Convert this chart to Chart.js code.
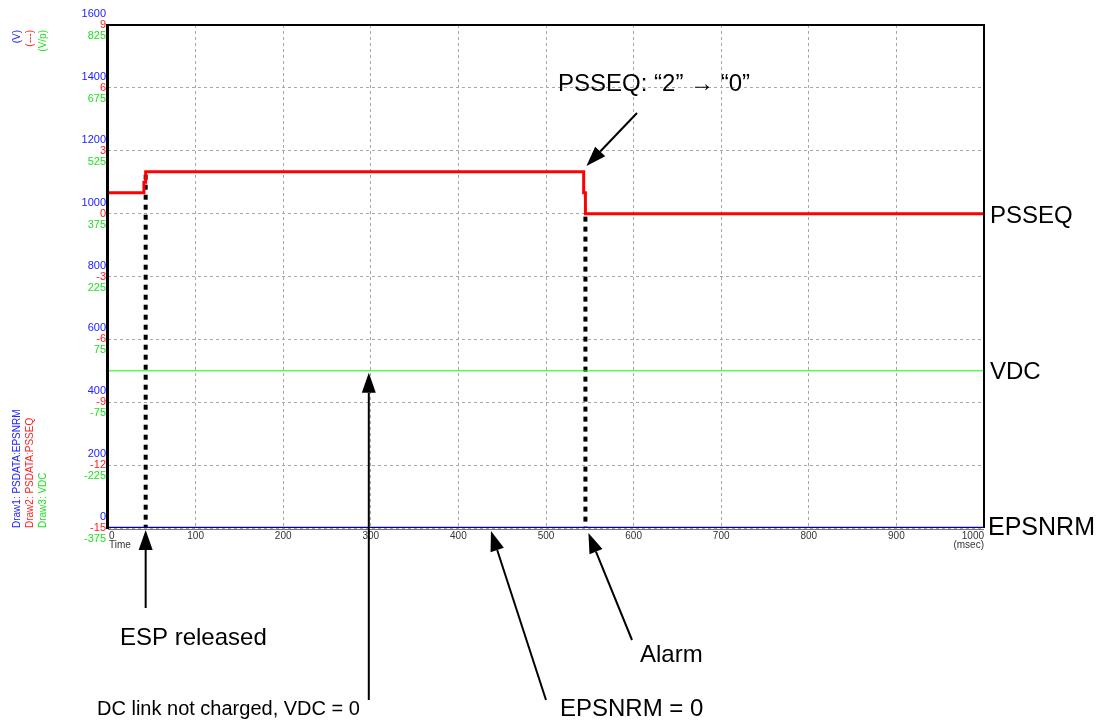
<!DOCTYPE html>
<html>
<head>
<meta charset="utf-8">
<script src="https://cdn.jsdelivr.net/npm/chart.js"></script>
<style>
  html, body { margin: 0; padding: 0; background: #fff; }
  #wrap { width: 1108px; height: 725px; position: relative; }
</style>
</head>
<body>
<div id="wrap"><canvas id="chart" width="1108" height="725"></canvas></div>
<script>
// 시간축 (msec)
const timeTicks = [0, 100, 200, 300, 400, 500, 600, 700, 800, 900, 1000];

// 세 개의 세로축 눈금 (같은 격자선을 공유)
const blueTicks = [0, 200, 400, 600, 800, 1000, 1200, 1400, 1600];
const redTicks = [-15, -12, -9, -6, -3, 0, 3, 6, 9];
const greenTicks = [-375, -225, -75, 75, 225, 375, 525, 675, 825];

// Draw2: PSDATA:PSSEQ (계단형)
const psseqTime = [0, 41, 43, 543, 545, 1000];
const psseqValue = [1, 1.5, 2, 1, 0, 0];

// Draw3: VDC
const vdcTime = [0, 1000];
const vdcValue = [0, 0];

// Draw1: PSDATA:EPSNRM
const epsnrmTime = [0, 1000];
const epsnrmValue = [0, 0];

// 점선 표시 시점 (msec, PSSEQ 값)
const markerTime = [43, 545];
const markerValue = [2, 0];

const toPoints = (xs, ys) => xs.map((x, i) => ({ x: x, y: ys[i] }));

const FONT = '"Liberation Sans", Arial, sans-serif';

// 화살표 그리기
function arrow(ctx, x1, y1, x2, y2) {
  const ang = Math.atan2(y2 - y1, x2 - x1);
  const len = 20, half = 7;
  const bx = x2 - Math.cos(ang) * len, by = y2 - Math.sin(ang) * len;
  ctx.strokeStyle = '#000';
  ctx.lineWidth = 2;
  ctx.beginPath();
  ctx.moveTo(x1, y1);
  ctx.lineTo(bx, by);
  ctx.stroke();
  ctx.fillStyle = '#000';
  ctx.beginPath();
  ctx.moveTo(x2, y2);
  ctx.lineTo(bx + Math.sin(ang) * half, by - Math.cos(ang) * half);
  ctx.lineTo(bx - Math.sin(ang) * half, by + Math.cos(ang) * half);
  ctx.closePath();
  ctx.fill();
}

const overlay = {
  id: 'overlay',
  beforeDatasetsDraw(chart) {
    const ctx = chart.ctx;
    const xs = chart.scales.x, yr = chart.scales.yRed;
    // 점선 (검정, 굵게)
    ctx.save();
    ctx.strokeStyle = '#000';
    ctx.lineWidth = 4;
    ctx.setLineDash([5, 5]);
    markerTime.forEach((t, i) => {
      const px = xs.getPixelForValue(t);
      ctx.beginPath();
      ctx.moveTo(px, yr.getPixelForValue(markerValue[i]) + 3);
      ctx.lineTo(px, chart.chartArea.bottom);
      ctx.stroke();
    });
    ctx.restore();
  },
  afterDraw(chart) {
    const ctx = chart.ctx;
    const a = chart.chartArea;
    const xs = chart.scales.x;
    const yb = chart.scales.yBlue, yr = chart.scales.yRed, yg = chart.scales.yGreen;
    ctx.save();

    // 테두리
    ctx.strokeStyle = '#000';
    ctx.lineWidth = 2;
    ctx.beginPath();
    ctx.moveTo(a.left, a.top);
    ctx.lineTo(a.right, a.top);
    ctx.lineTo(a.right, a.bottom);
    ctx.stroke();
    ctx.lineWidth = 3;
    ctx.beginPath();
    ctx.moveTo(a.left - 0.5, a.top - 1);
    ctx.lineTo(a.left - 0.5, a.bottom + 1);
    ctx.stroke();
    ctx.strokeStyle = '#777';
    ctx.lineWidth = 1;
    ctx.beginPath();
    ctx.moveTo(a.left, a.bottom + 1.5);
    ctx.lineTo(a.right, a.bottom + 1.5);
    ctx.stroke();

    // 세로축 라벨 (3색)
    ctx.font = '11px ' + FONT;
    ctx.textAlign = 'right';
    ctx.textBaseline = 'middle';
    const lx = a.left - 2;
    blueTicks.forEach(v => {
      ctx.fillStyle = '#2020ff';
      ctx.fillText(String(v), lx, yb.getPixelForValue(v) - 11);
    });
    redTicks.forEach(v => {
      ctx.fillStyle = '#ff2020';
      ctx.fillText(String(v), lx, yr.getPixelForValue(v));
    });
    greenTicks.forEach(v => {
      ctx.fillStyle = '#20e020';
      ctx.fillText(String(v), lx, yg.getPixelForValue(v) + 11);
    });

    // 시간축 라벨
    ctx.font = '10px ' + FONT;
    ctx.fillStyle = '#333';
    ctx.textBaseline = 'top';
    timeTicks.forEach((t, i) => {
      const px = xs.getPixelForValue(t);
      ctx.textAlign = i === 0 ? 'left' : (i === timeTicks.length - 1 ? 'right' : 'center');
      ctx.fillText(String(t), px + (i === 0 ? 1 : 0), a.bottom + 3);
    });
    ctx.textAlign = 'left';
    ctx.fillText('Time', a.left + 1, a.bottom + 12);
    ctx.textAlign = 'right';
    ctx.fillText('(msec)', a.right, a.bottom + 12);

    // 단위 / 범례 (세로 글씨)
    const vtext = (txt, x, y, color, align) => {
      ctx.save();
      ctx.translate(x, y);
      ctx.rotate(-Math.PI / 2);
      ctx.fillStyle = color;
      ctx.textAlign = align;
      ctx.textBaseline = 'middle';
      ctx.fillText(txt, 0, 0);
      ctx.restore();
    };
    ctx.font = '10px ' + FONT;
    vtext('(V)', 17, 30, '#2020ff', 'right');
    vtext('(---)', 30, 30, '#ff2020', 'right');
    vtext('(V/p)', 43, 30, '#20e020', 'right');
    vtext('Draw1: PSDATA:EPSNRM', 17, 528, '#2020ff', 'left');
    vtext('Draw2: PSDATA:PSSEQ', 30, 528, '#ff2020', 'left');
    vtext('Draw3: VDC', 43, 528, '#20e020', 'left');

    // 신호 이름
    ctx.fillStyle = '#000';
    ctx.font = '24px ' + FONT;
    ctx.textAlign = 'left';
    ctx.textBaseline = 'middle';
    ctx.fillText('PSSEQ', a.right + 6, yr.getPixelForValue(psseqValue[psseqValue.length - 1]) + 3);
    ctx.fillText('VDC', a.right + 6, yg.getPixelForValue(vdcValue[vdcValue.length - 1]) + 2);
    ctx.font = '25px ' + FONT;
    ctx.fillText('EPSNRM', a.right + 4, yb.getPixelForValue(epsnrmValue[epsnrmValue.length - 1]));

    // 주석
    ctx.font = '24px ' + FONT;
    ctx.fillText('PSSEQ: \u201C2\u201D \u2192 \u201C0\u201D', 558, 84);
    ctx.fillText('ESP released', 120, 638);
    ctx.fillText('EPSNRM = 0', 560, 709);
    ctx.fillText('Alarm', 640, 655);
    ctx.font = '20px ' + FONT;
    ctx.fillText('DC link not charged, VDC = 0', 97, 709);

    const px1 = xs.getPixelForValue(markerTime[0]);
    const px2 = xs.getPixelForValue(markerTime[1]);
    arrow(ctx, 637, 113, px2 + 1, 166);
    arrow(ctx, px1, 608, px1, a.bottom + 2);
    arrow(ctx, xs.getPixelForValue(300) - 2, 700, xs.getPixelForValue(300) - 2, yg.getPixelForValue(0) + 2);
    arrow(ctx, 546, 700, 491, a.bottom + 3);
    arrow(ctx, 632, 640, px2 + 3, a.bottom + 5);

    ctx.restore();
  }
};

const dashedGrid = {
  color: '#a8a8a8',
  lineWidth: 1,
  drawTicks: false
};

new Chart(document.getElementById('chart'), {
  type: 'line',
  data: {
    datasets: [
      {
        label: 'VDC',
        data: toPoints(vdcTime, vdcValue),
        yAxisID: 'yGreen',
        borderColor: '#00ff00',
        borderWidth: 1,
        pointRadius: 0
      },
      {
        label: 'PSSEQ',
        data: toPoints(psseqTime, psseqValue),
        yAxisID: 'yRed',
        borderColor: '#ff0000',
        borderWidth: 3,
        pointRadius: 0,
        stepped: true
      },
      {
        label: 'EPSNRM',
        data: toPoints(epsnrmTime, epsnrmValue),
        yAxisID: 'yBlue',
        borderColor: '#0000a0',
        borderWidth: 2.5,
        pointRadius: 0
      }
    ]
  },
  options: {
    responsive: false,
    animation: false,
    events: [],
    layout: { padding: { left: 108, right: 124, top: 25, bottom: 197 } },
    plugins: { legend: { display: false }, tooltip: { enabled: false } },
    scales: {
      x: {
        type: 'linear',
        min: 0,
        max: 1000,
        afterBuildTicks: s => { s.ticks = timeTicks.map(v => ({ value: v })); },
        ticks: { display: false },
        grid: dashedGrid,
        border: { display: false, dash: [3, 3] }
      },
      yRed: {
        type: 'linear',
        position: 'left',
        min: -15,
        max: 9,
        afterBuildTicks: s => { s.ticks = redTicks.map(v => ({ value: v })); },
        ticks: { display: false },
        grid: dashedGrid,
        border: { display: false, dash: [3, 3] }
      },
      yBlue: { type: 'linear', min: 0, max: 1600, display: false },
      yGreen: { type: 'linear', min: -375, max: 825, display: false }
    }
  },
  plugins: [overlay]
});
</script>
</body>
</html>
